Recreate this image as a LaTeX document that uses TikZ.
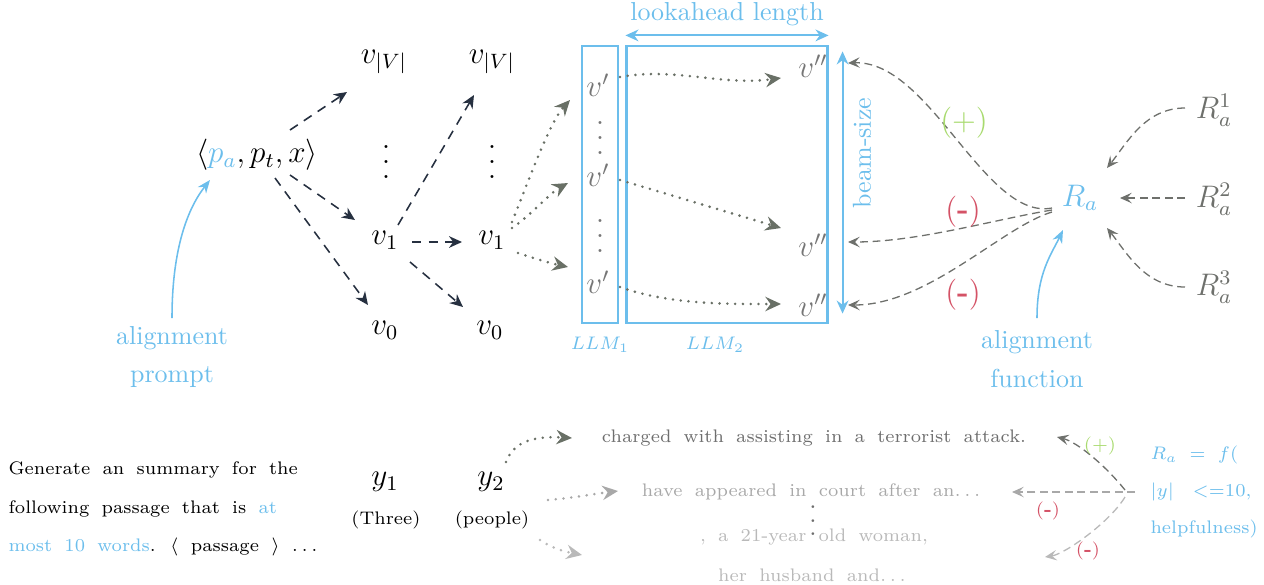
\documentclass[tikz,border=0pt]{standalone}
\usepackage{amsmath}
\usetikzlibrary{arrows.meta}
\definecolor{sky}{RGB}{108,190,236}
\definecolor{navy}{RGB}{38,48,64}
\definecolor{dgray}{RGB}{105,112,102}
\definecolor{tgray}{RGB}{118,118,118}
\definecolor{rgray}{RGB}{110,112,108}
\definecolor{cone}{RGB}{110,110,110}
\definecolor{ctwo}{RGB}{168,168,168}
\definecolor{cthree}{RGB}{185,185,185}
\definecolor{pgreen}{RGB}{168,218,110}
\definecolor{pred}{RGB}{212,82,102}
\newcommand\myvdots{\vbox{\baselineskip5.6pt\lineskiplimit0pt\hbox{.}\hbox{.}\hbox{.}}}
\newcommand\smvdots{\vbox{\baselineskip5.2pt\lineskiplimit0pt\hbox{.}\hbox{.}\hbox{.}}}
\begin{document}
\begin{tikzpicture}[x=0.385pt,y=-0.385pt,
  mth/.style={font=\large, inner sep=1pt},
  btext/.style={font={\scriptsize\spaceskip=4.7pt\relax}, inner sep=0pt},
  navyarr/.style={draw=navy, line width=0.6pt, dash pattern=on 3.6pt off 2.8pt, -{Stealth[length=5pt,width=4.5pt,inset=1.6pt]}},
  dotarr/.style={draw=dgray, line width=1.1pt, line cap=round, dash pattern=on 0pt off 3pt, -{Stealth[length=6pt,width=5.5pt,inset=2pt,line cap=butt]}},
  rdash/.style={draw=rgray, line width=0.5pt, dash pattern=on 3pt off 1.8pt, -{Stealth[length=4.5pt,width=4pt,inset=1.8pt]}},
  bluearr/.style={draw=sky, line width=0.6pt, -{Stealth[length=5pt,width=4pt,inset=1.6pt]}},
  bluedbl/.style={draw=sky, line width=0.8pt, {Stealth[length=5pt,width=4.5pt,inset=1.6pt]}-{Stealth[length=5pt,width=4.5pt,inset=1.6pt]}}
]
\useasboundingbox (0,0) rectangle (1264,584);

% ---------- left tree ----------
\node[mth] (pin) at (257,155) {$\langle{\color{sky}p_a},p_t,x\rangle$};
\node[mth] (vV1) at (384,62) {$v_{|V|}$};
\node[mth] (vV2) at (492,62) {$v_{|V|}$};
\node[mth] (vd1) at (386,162) {$\myvdots$};
\node[mth] (vd2) at (492,162) {$\myvdots$};
\node[mth] (v11) at (385,240) {$v_1$};
\node[mth] (v12) at (492,240) {$v_1$};
\node[mth] (v01) at (385,330) {$v_0$};
\node[mth] (v02) at (490,330) {$v_0$};

\draw[navyarr] ([shift={(33,-25)}]pin.center) -- ([shift={(-37,30)}]vV1.center);
\draw[navyarr] ([shift={(33,20)}]pin.center) -- ([shift={(-30,-20)}]v11.center);
\draw[navyarr] ([shift={(18,23)}]pin.center) -- ([shift={(-17,-25)}]v01.center);
\draw[navyarr] ([shift={(13,-15)}]v11.center) -- ([shift={(-18,33)}]vV2.center);
\draw[navyarr] ([shift={(27,2)}]v11.center) -- ([shift={(-30,2)}]v12.center);
\draw[navyarr] ([shift={(25,22)}]v11.center) -- ([shift={(-27,-23)}]v02.center);

\node[text=sky] (ap1) at (172,338) {alignment};
\node[text=sky] (ap2) at (172,377) {prompt};
\draw[bluearr] ([shift={(0,-20)}]ap1.center) .. controls +(0,-70) and +(-22,28) .. ([shift={(-47,25)}]pin.center);

% ---------- LLM boxes ----------
\node[draw=sky, line width=0.8pt, minimum width=13.86pt, minimum height=106.3pt, inner sep=0pt] (llm1) at (600,184.5) {};
\node[draw=sky, line width=0.8pt, minimum width=77.4pt, minimum height=106.3pt, inner sep=0pt] (llm2) at (727,184.5) {};
\node[text=sky] (la) at (727,14) {lookahead length};
\draw[bluedbl] ([shift={(0,-10)}]llm2.north west) -- ([shift={(0,-10)}]llm2.north east);
\draw[bluedbl] ([shift={(14,6)}]llm2.north east) -- ([shift={(14,-10)}]llm2.south east);
\node[text=sky, rotate=90] (bs) at (862,153) {beam-size};
\node[text=sky, font=\scriptsize] (l1) at (600,345) {$LLM_1$};
\node[text=sky, font=\scriptsize] (l2) at (715,345) {$LLM_2$};

\node[mth, text=tgray] (vp1) at (598,85) {$v'$};
\node[mth, text=tgray] (vp2) at (598,175) {$v'$};
\node[mth, text=tgray] (vp3) at (598,282) {$v'$};
\node[mth, text=tgray] (vpd1) at (600,138) {$\myvdots$};
\node[mth, text=tgray] (vpd2) at (600,236) {$\myvdots$};
\node[mth, text=tgray] (vpp1) at (813,66) {$v''$};
\node[mth, text=tgray] (vpp2) at (813,245) {$v''$};
\node[mth, text=tgray] (vpp3) at (813,305) {$v''$};

\draw[dotarr] ([shift={(20,-18)}]v12.center) .. controls +(18,-45) and +(-20,22) .. ([shift={(-28,15)}]vp1.center);
\draw[dotarr] ([shift={(20,-12)}]v12.center) .. controls +(18,-12) and +(-18,10) .. ([shift={(-30,8)}]vp2.center);
\draw[dotarr] ([shift={(26,13)}]v12.center) .. controls +(18,6) and +(-18,-4) .. ([shift={(-30,-15)}]vp3.center);

\draw[dotarr] ([shift={(22,-8)}]vp1.center) .. controls +(55,-10) and +(-60,8) .. ([shift={(-32,12)}]vpp1.center);
\draw[dotarr] ([shift={(22,5)}]vp2.center) -- ([shift={(-32,-17)}]vpp2.center);
\draw[dotarr] ([shift={(22,5)}]vp3.center) .. controls +(50,18) and +(-50,0) .. ([shift={(-32,-1)}]vpp3.center);

% ---------- reward ----------
\node[mth, text=sky] (Ra) at (1080,198) {$R_a$};
\node[mth, text=rgray] (R1) at (1214,110) {$R_a^1$};
\node[mth, text=rgray] (R2) at (1214,199) {$R_a^2$};
\node[mth, text=rgray] (R3) at (1214,287) {$R_a^3$};
\draw[rdash] ([shift={(-29,-2)}]R1.center) .. controls +(-40,0) and +(20,-25) .. ([shift={(27,-30)}]Ra.center);
\draw[rdash] ([shift={(-29,-1)}]R2.center) -- ([shift={(40,0)}]Ra.center);
\draw[rdash] ([shift={(-29,0)}]R3.center) .. controls +(-40,0) and +(20,25) .. ([shift={(27,30)}]Ra.center);

\draw[rdash] ([shift={(-28,10)}]Ra.center) .. controls +(-67,13) and +(82,-3) .. ([shift={(35,-3)}]vpp1.center);
\draw[rdash] ([shift={(-28,12)}]Ra.center) .. controls +(-60,10) and +(70,0) .. ([shift={(35,-3)}]vpp2.center);
\draw[rdash] ([shift={(-28,14)}]Ra.center) .. controls +(-50,15) and +(80,0) .. ([shift={(35,0)}]vpp3.center);

\node[text=pgreen, font=\large] (pl) at (964,123) {(+)};
\node[text=pred, font=\large] (mi1) at (963,212) {(\textbf{-})};
\node[text=pred, font=\large] (mi2) at (963,295) {(\textbf{-})};

\node[text=sky] (af1) at (1037,342) {alignment};
\node[text=sky] (af2) at (1037,378) {function};
\draw[bluearr] ([shift={(0,-24)}]af1.center) .. controls +(0,-45) and +(-12,25) .. ([shift={(-17,32)}]Ra.center);

% ---------- bottom example ----------
\node[btext, anchor=west] (g1) at (8,470) {Generate an summary for the};
\node[btext, anchor=west] (g2) at (8,509) {following passage that is {\color{sky}at}};
\node[btext, anchor=west] (g3) at (8,547) {{\color{sky}most 10 words}. $\langle$ passage $\rangle$ $\ldots$};

\node[mth] (y1) at (385,482) {$y_1$};
\node[mth] (y2) at (491,482) {$y_2$};
\node[font=\scriptsize] (t1) at (386,520) {(Three)};
\node[font=\scriptsize] (t2) at (492,520) {(people)};

\node[btext, text=cone] (c1) at (814,438) {charged with assisting in a terrorist attack.};
\node[btext, text=ctwo] (c2) at (811,492) {have appeared in court after an$\ldots$};
\node[btext, text=cthree] (c3) at (814,537) {, a 21-year old woman,};
\node[btext, text=cthree] (c4) at (812,575) {her husband and$\ldots$};
\node[text=cone] (cd) at (813,521) {$\smvdots$};

\draw[dotarr] ([shift={(15,-20)}]y2.center) .. controls +(8,-22) and +(-35,-2) .. ([shift={(-242,0)}]c1.center);
\draw[dotarr, draw=ctwo] ([shift={(57,18)}]y2.center) .. controls +(25,-2) and +(-25,3) .. ([shift={(-193,-1)}]c2.center);
\draw[dotarr, draw=cthree] ([shift={(49,58)}]y2.center) .. controls +(15,10) and +(-15,-3) .. ([shift={(-232,18)}]c3.center);

\node[btext, text=sky, anchor=west] (f1) at (1150,455) {$R_a$ = $f$(};
\node[btext, text=sky, anchor=west] (f2) at (1150,492) {$|y|$\hspace{2.5pt} <=10,};
\node[btext, text=sky, anchor=west] (f3) at (1150,529) {helpfulness)};

\draw[rdash] ([shift={(-25,-2)}]f2.west) .. controls +(-20,-25) and +(20,5) .. ([shift={(243,-1)}]c1.center);
\draw[rdash, draw=ctwo] ([shift={(-15,0)}]f2.west) -- ([shift={(201,0)}]c2.center);
\draw[rdash, draw=cthree] ([shift={(-25,5)}]f2.west) .. controls +(-15,25) and +(20,-3) .. ([shift={(231,20)}]c3.center);

\node[text=pgreen, font=\scriptsize] (bp) at (1100,446) {(+)};
\node[text=pred, font=\scriptsize] (bm1) at (1048,511) {(\textbf{-})};
\node[text=pred, font=\scriptsize] (bm2) at (1088,551) {(\textbf{-})};
\end{tikzpicture}
\end{document}
